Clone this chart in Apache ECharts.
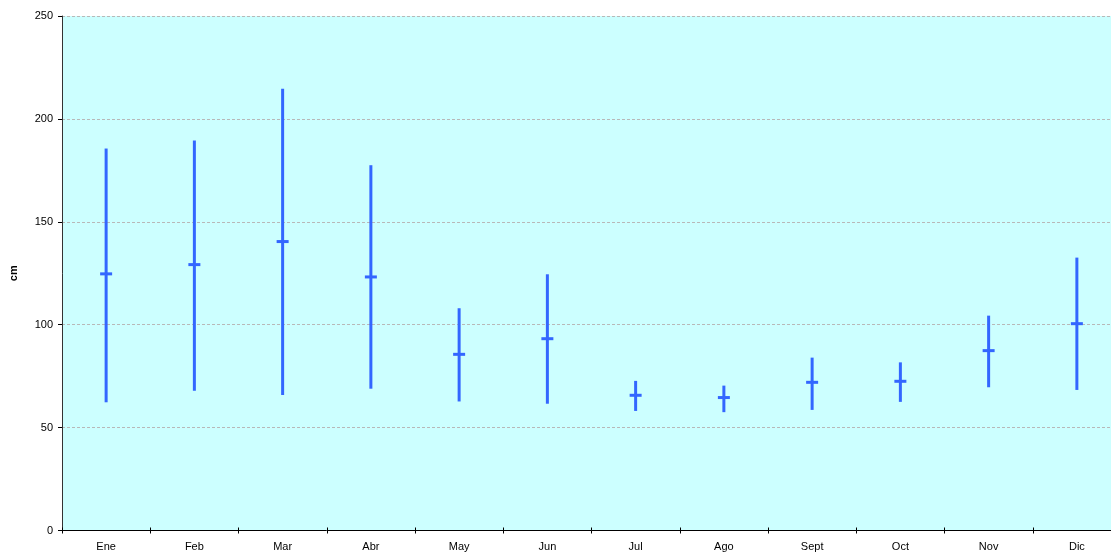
<!DOCTYPE html>
<html>
<head>
<meta charset="utf-8">
<script src="https://cdn.jsdelivr.net/npm/echarts@6/dist/echarts.min.js"></script>
<style>
html,body{margin:0;padding:0;background:#fff;overflow:hidden;width:1111px;height:556px;}
#chart{width:1121px;height:556px;}
</style>
</head>
<body>
<div id="chart"></div>
<script>
const months = ['Ene','Feb','Mar','Abr','May','Jun','Jul','Ago','Sept','Oct','Nov','Dic'];
const lowValues  = [62.3, 67.9, 65.8, 68.9, 62.7, 61.6, 58.1, 57.5, 58.6, 62.5, 69.6, 68.3];
const highValues = [185.6, 189.5, 214.6, 177.5, 108.0, 124.5, 72.7, 70.4, 84.0, 81.7, 104.4, 132.6];
const meanValues = [124.7, 129.2, 140.4, 123.2, 85.6, 93.2, 65.7, 64.6, 72.0, 72.5, 87.4, 100.5];
const yTicks = [0, 50, 100, 150, 200, 250];

const seriesData = months.map((m, i) => [i, lowValues[i], highValues[i], meanValues[i]]);
const FONT = '"Liberation Sans", Arial, sans-serif';

const chart = echarts.init(document.getElementById('chart'), null, {renderer: 'canvas'});
chart.setOption({
  animation: false,
  backgroundColor: '#ffffff',
  grid: {
    left: 62, top: 16, right: 0, bottom: 25.5,
    show: true, backgroundColor: '#CCFFFF', borderWidth: 0
  },
  xAxis: [{
    type: 'category',
    data: months,
    boundaryGap: true,
    axisLine: {show: true, lineStyle: {color: '#000', width: 1}},
    axisTick: {show: true, alignWithLabel: false, length: 3, lineStyle: {color: '#000'}},
    axisLabel: {color: '#000', fontFamily: FONT, fontSize: 11, margin: 11},
    splitLine: {show: false}
  }, {
    type: 'category',
    data: months,
    position: 'bottom',
    boundaryGap: true,
    axisLine: {show: false},
    axisTick: {show: true, inside: true, length: 3, lineStyle: {color: '#000'}},
    axisLabel: {show: false},
    splitLine: {show: false}
  }],
  yAxis: {
    type: 'value',
    min: yTicks[0],
    max: yTicks[yTicks.length - 1],
    interval: 50,
    name: 'cm',
    nameLocation: 'middle',
    nameGap: 43,
    nameRotate: 90,
    nameTextStyle: {color: '#000', fontFamily: FONT, fontSize: 11, fontWeight: 'bold'},
    axisLine: {show: true, lineStyle: {color: '#333', width: 1}},
    axisTick: {show: true, length: 4, lineStyle: {color: '#000'}},
    axisLabel: {color: '#000', fontFamily: FONT, fontSize: 11, margin: 9},
    splitLine: {show: true, lineStyle: {color: '#B8B8B8', type: [3, 2], width: 1}}
  },
  series: [{
    type: 'custom',
    xAxisIndex: 0,
    data: seriesData,
    encode: {x: 0, y: [1, 2, 3]},
    renderItem: function (params, api) {
      const lo = api.coord([api.value(0), api.value(1)]);
      const hi = api.coord([api.value(0), api.value(2)]);
      const mid = api.coord([api.value(0), api.value(3)]);
      const st = {stroke: '#3366FF', lineWidth: 3, lineCap: 'butt'};
      return {
        type: 'group',
        children: [
          {type: 'line', shape: {x1: lo[0], y1: lo[1], x2: hi[0], y2: hi[1]}, style: st},
          {type: 'line', shape: {x1: mid[0] - 6, y1: mid[1], x2: mid[0] + 6, y2: mid[1]}, style: st}
        ]
      };
    }
  }]
});
</script>
</body>
</html>
